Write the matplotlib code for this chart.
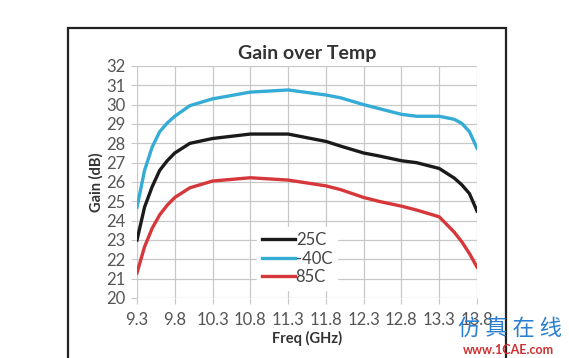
import matplotlib.pyplot as plt
from matplotlib.patches import Rectangle

# frequency points (GHz) and gain readings (dB)
freq = [9.3, 9.4, 9.5, 9.6, 9.7, 9.8, 10.0, 10.3, 10.8, 11.3, 11.8, 12.0, 12.3, 12.5,
        12.8, 13.0, 13.3, 13.5, 13.6, 13.7, 13.8]
gain_25c = [23.0, 24.7, 25.75, 26.6, 27.1, 27.5, 28.0, 28.25, 28.48, 28.48, 28.1, 27.85,
            27.5, 27.35, 27.1, 27.0, 26.7, 26.2, 25.85, 25.4, 24.5]
gain_m40c = [24.7, 26.6, 27.8, 28.6, 29.05, 29.4, 29.95, 30.3, 30.65, 30.76, 30.5, 30.35,
             30.0, 29.8, 29.5, 29.4, 29.4, 29.24, 29.03, 28.6, 27.75]
gain_85c = [21.3, 22.65, 23.6, 24.3, 24.8, 25.2, 25.7, 26.05, 26.22, 26.1, 25.8, 25.6,
            25.2, 25.0, 24.75, 24.55, 24.2, 23.4, 22.9, 22.3, 21.6]

xticks = [9.3, 9.8, 10.3, 10.8, 11.3, 11.8, 12.3, 12.8, 13.3, 13.8]
yticks = list(range(20, 33))

plt.rcParams['font.family'] = ['Lato', 'DejaVu Sans']

fig = plt.figure(figsize=(5.69, 3.58), dpi=100)
fig.patch.set_facecolor('white')

# outer frame around the chart
fig.patches.append(Rectangle((68/569, -0.05), (506-68)/569, 1.05 - 28/358,
                             transform=fig.transFigure, fill=False,
                             edgecolor='#222222', linewidth=1.6))

ax = fig.add_axes([137/569, 1-298/358, 340/569, 232/358])
ax.plot(freq, gain_25c, color='#1a1a1a', lw=2.4, label='25C', zorder=3)
ax.plot(freq, gain_m40c, color='#35acd6', lw=2.4, label='-40C', zorder=3)
ax.plot(freq, gain_85c, color='#d6373a', lw=2.4, label='85C', zorder=3)

ax.set_xlim(9.3, 13.8)
ax.set_ylim(20, 32)
ax.set_xticks(xticks)
ax.set_xticklabels([str(v) for v in xticks])
ax.set_yticks(yticks)
ax.grid(True, color='#c8c8c8', lw=0.9)
for s in ax.spines.values():
    s.set_visible(False)
ax.tick_params(length=4, color='#c8c8c8', labelsize=12, labelcolor='#555555')
ax.tick_params(axis='x', pad=6)
ax.tick_params(axis='y', pad=4)

ax.set_title('Gain over Temp', fontsize=14, fontweight='bold', color='#333333', pad=5)
ax.set_xlabel('Freq (GHz)', fontsize=10.5, fontweight='bold', color='#333333', labelpad=2)
ax.set_ylabel('Gain (dB)', fontsize=10.5, fontweight='bold', color='#333333', labelpad=2)

leg = ax.legend(loc='center', bbox_to_anchor=(0.47, 0.17), frameon=True,
                fontsize=12, handlelength=2.0, handletextpad=0.05,
                labelspacing=0.15, borderpad=0.3)
leg.get_frame().set_edgecolor('white')
leg.get_frame().set_alpha(1)
for t in leg.get_texts():
    t.set_color('#444444')

# watermark
fig.text(510/569, 1-329/358, '仿 真 在 线', fontsize=16, color='#2a7fd0',
         ha='center', va='center', family=['Noto Sans CJK SC', 'DejaVu Sans'])
fig.text(508/569, 1-350/358, 'www.1CAE.com', fontsize=9, color='#d03030',
         fontweight='bold', ha='center', va='center')

fig.savefig('out.png', dpi=100)
